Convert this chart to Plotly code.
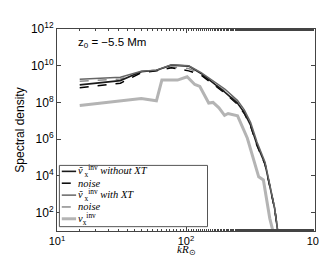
import plotly.graph_objects as go

# ---- data (log10 of spectral density) ----
k_dark = [15, 31, 45, 59, 77, 105, 131, 160, 201, 251, 283, 317, 355, 410, 447, 487, 514]
s_without_xt = [8.96, 9.19, 9.68, 9.75, 10.03, 9.98, 9.58, 9.11, 8.55, 7.95, 7.45, 6.75, 5.70, 4.65, 3.43, 2.21, 1.0]
s_noise_without = [8.80, 9.05, 9.62, 9.72, 9.89, 9.72, 9.49, 9.05, 8.50, 7.90, 7.40, 6.70, 5.65, 4.62, 3.40, 2.20, 1.0]
s_with_xt = [9.26, 9.37, 9.70, 9.76, 10.05, 10.00, 9.62, 9.18, 8.72, 8.10, 7.60, 6.90, 5.85, 4.75, 3.50, 2.25, 1.0]
s_noise_with = [9.16, 9.28, 9.66, 9.74, 9.92, 9.85, 9.53, 9.08, 8.62, 8.00, 7.50, 6.80, 5.75, 4.68, 3.45, 2.22, 1.0]

k_true = [15, 45, 59, 65, 86, 102, 117, 128, 150, 162, 180, 199, 212, 251, 299, 336, 366, 398, 421, 446, 472]
s_true = [7.83, 8.21, 8.09, 9.22, 9.22, 9.40, 8.98, 8.87, 7.97, 8.00, 7.71, 7.30, 7.40, 7.27, 6.05, 4.83, 3.95, 3.78, 2.73, 1.69, 1.0]

y_tickvals = [1e2, 1e4, 1e6, 1e8, 1e10, 1e12]
y_ticktext = ["10<sup>2</sup>", "10<sup>4</sup>", "10<sup>6</sup>", "10<sup>8</sup>", "10<sup>10</sup>", "10<sup>12</sup>"]
x_tickvals = [10, 100, 1000]
x_ticktext = ["10<sup>1</sup>", "10<sup>2</sup>", "10<sup>3</sup>"]

legend_labels = [
    "<i>ṽ</i><sub> x</sub><sup>inv</sup> <i>without XT</i>",
    "<i>noise</i>",
    "<i>ṽ</i><sub> x</sub><sup>inv</sup> <i>with XT</i>",
    "<i>noise</i>",
    "<i>v</i><sub>x</sub><sup>inv</sup>",
]

styles = [
    dict(color="#1a1a1a", width=1.6, dash="solid"),
    dict(color="#000000", width=1.5, dash="dash"),
    dict(color="#666666", width=1.5, dash="solid"),
    dict(color="#8c8c8c", width=1.5, dash="dash"),
    dict(color="#b4b4b4", width=3, dash="solid"),
]

series = [
    (k_dark, s_without_xt),
    (k_dark, s_noise_without),
    (k_dark, s_with_xt),
    (k_dark, s_noise_with),
    (k_true, s_true),
]

fig = go.Figure()
draw_order = [4, 3, 1, 0, 2]
for i in draw_order:
    kx, sy = series[i]
    fig.add_trace(go.Scatter(
        x=kx, y=[10 ** v for v in sy], mode="lines",
        line=styles[i], showlegend=False, name=legend_labels[i]))

W, H = 327, 257
L, R, T, B = 44, 13, 13, 34
pw, ph = W - L - R, H - T - B


def px(xp):
    return (xp - L) / pw


def py(yp):
    return (H - B - yp) / ph


shapes = [dict(type="rect", xref="paper", yref="paper",
               x0=px(46.5), x1=px(201.5), y0=py(218.5), y1=py(154.8),
               line=dict(color="#555555", width=1), fillcolor="white", layer="above")]
annotations = []
ys = [161, 173.3, 185.7, 198, 210.3]
for i, yy in enumerate(ys):
    st = styles[i]
    shapes.append(dict(type="line", xref="paper", yref="paper",
                       x0=px(49), x1=px(64), y0=py(yy), y1=py(yy),
                       line=dict(color=st["color"], width=st["width"], dash=st["dash"]),
                       layer="above"))
    annotations.append(dict(xref="paper", yref="paper", x=px(65), y=py(yy),
                            xanchor="left", yanchor="middle", showarrow=False,
                            text=legend_labels[i], borderpad=0,
                            font=dict(family="Liberation Serif", size=10.5, color="black")))

annotations.append(dict(xref="paper", yref="paper", x=px(64), y=py(28),
                        xanchor="left", yanchor="middle", showarrow=False,
                        text="z<sub>0</sub> = −5.5 Mm",
                        font=dict(family="Liberation Sans", size=11.5, color="black")))

# x axis title placed as text below the axis
annotations.append(dict(xref="paper", yref="paper", x=px(179), y=py(243),
                        xanchor="center", yanchor="middle", showarrow=False,
                        text="<i>kR</i><sub>⊙</sub>", borderpad=0,
                        font=dict(family="Liberation Serif", size=11, color="black")))

fig.update_layout(
    width=W, height=H,
    margin=dict(l=L, r=R, t=T, b=B),
    paper_bgcolor="white", plot_bgcolor="white",
    shapes=shapes, annotations=annotations,
    font=dict(family="Liberation Sans", size=12, color="black"),
    xaxis=dict(type="log", range=[1, 3], tickvals=x_tickvals, ticktext=x_ticktext,
               ticks="inside", ticklen=4, tickcolor="#444", showline=True, linecolor="#444",
               mirror="allticks", showgrid=False, zeroline=False, ticklabeloverflow="allow",
               tickfont=dict(size=11),
               minor=dict(ticks="inside", ticklen=2, tickcolor="#444", showgrid=False)),
    yaxis=dict(type="log", range=[1, 12], tickvals=y_tickvals, ticktext=y_ticktext,
               ticks="inside", ticklen=4, tickcolor="#444", showline=True, linecolor="#444",
               mirror="allticks", showgrid=False, zeroline=False, ticklabeloverflow="allow",
               title=dict(text="Spectral density", standoff=3,
                          font=dict(family="Liberation Sans", size=12))),
)

fig.write_html("out.html")
